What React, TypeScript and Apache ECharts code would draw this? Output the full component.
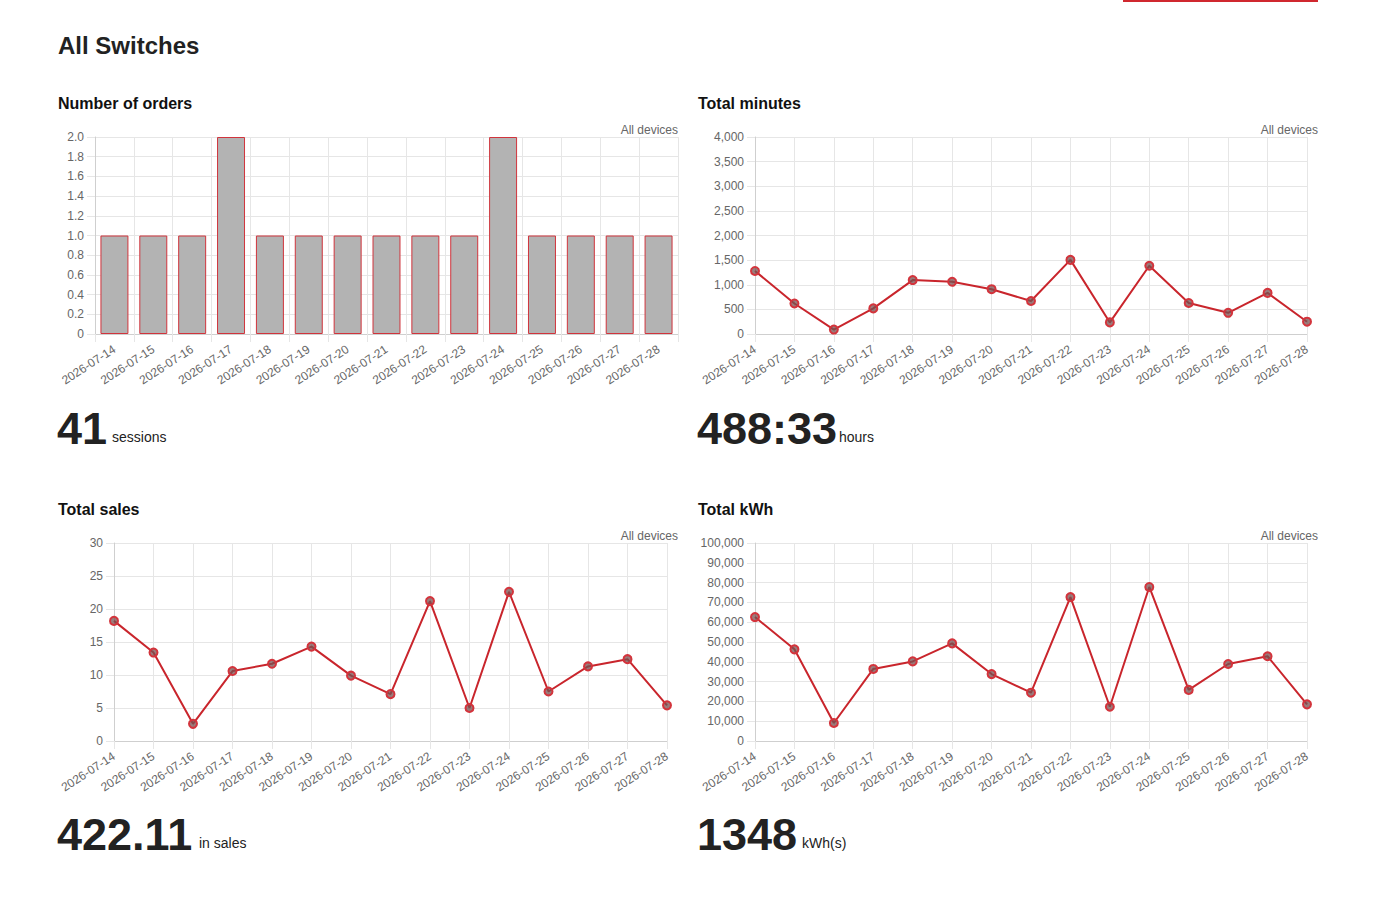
import { useEffect, useRef } from "react";
import * as echarts from "echarts";

const dates = [
  "2026-07-14", "2026-07-15", "2026-07-16", "2026-07-17", "2026-07-18",
  "2026-07-19", "2026-07-20", "2026-07-21", "2026-07-22", "2026-07-23",
  "2026-07-24", "2026-07-25", "2026-07-26", "2026-07-27", "2026-07-28",
];

const orders = [1, 1, 1, 2, 1, 1, 1, 1, 1, 1, 2, 1, 1, 1, 1];
const minutes = [1280, 620, 90, 520, 1095, 1060, 910, 670, 1505, 235, 1385, 630, 430, 835, 250];
const sales = [18.2, 13.4, 2.6, 10.6, 11.7, 14.3, 9.9, 7.1, 21.2, 5.0, 22.6, 7.5, 11.3, 12.4, 5.4];
const kwh = [62600, 46300, 9100, 36400, 40200, 49300, 33800, 24400, 72700, 17300, 77800, 25800, 38900, 42800, 18500];

const panelTitles = ["Number of orders", "Total minutes", "Total sales", "Total kWh"];
const totals = ["41", "488:33", "422.11", "1348"];
const units = ["sessions", "hours", "in sales", "kWh(s)"];
const yMax = [2, 4000, 30, 100000];
const yStep = [0.2, 500, 5, 10000];

const FONT = '"Helvetica Neue", Helvetica, Arial, "Liberation Sans", sans-serif';
const GRID = "#e6e6e6";
const RED = "#c9252c";

// plot areas, in page pixels
const grids = [
  { left: 95, top: 137, width: 583, height: 197 },
  { left: 755, top: 137, width: 552, height: 197 },
  { left: 114, top: 543, width: 553, height: 198 },
  { left: 755, top: 543, width: 552, height: 198 },
];
const colX = [58, 698, 58, 698];
const rowY = [0, 0, 406, 406];
const unitX = [112, 839, 199, 802];

const fmt = (i: number) => (v: number) => {
  if (i === 0) return v === 0 ? "0" : v.toFixed(1);
  return v.toLocaleString("en-US");
};

export default function App() {
  const ref = useRef<HTMLDivElement>(null);

  useEffect(() => {
    if (!ref.current) return;
    const chart = echarts.init(ref.current, null, { renderer: "svg" });

    const xAxis = grids.map((_, i) => ({
      type: "category",
      gridIndex: i,
      data: dates,
      boundaryGap: i === 0,
      axisLine: { lineStyle: { color: "#cfcfcf" } },
      axisTick: { show: true, interval: 0, length: 8, lineStyle: { color: GRID } },
      axisLabel: { interval: 0, rotate: 33, margin: 14, fontSize: 12, color: "#666", fontFamily: FONT },
      splitLine: { show: true, interval: 0, lineStyle: { color: GRID } },
    }));

    const yAxis = grids.map((_, i) => ({
      type: "value",
      gridIndex: i,
      min: 0,
      max: yMax[i],
      interval: yStep[i],
      axisLine: { show: true, lineStyle: { color: "#cfcfcf" } },
      axisTick: { show: true, length: 8, lineStyle: { color: GRID } },
      axisLabel: { margin: 11, fontSize: 12, color: "#666", fontFamily: FONT, formatter: fmt(i) },
      splitLine: { lineStyle: { color: GRID } },
    }));

    const lineSeries = (data: number[], i: number) => ({
      type: "line",
      xAxisIndex: i,
      yAxisIndex: i,
      data,
      symbol: "circle",
      symbolSize: 8,
      lineStyle: { color: RED, width: 2 },
      itemStyle: { color: "rgba(120,80,80,0.75)", borderColor: "#d3343c", borderWidth: 2 },
    });

    const graphic: any[] = [
      { type: "rect", shape: { x: 1123, y: 0, width: 195, height: 2 }, style: { fill: "#d0282f" } },
      {
        type: "text", x: 58, y: 45.6,
        style: { text: "All Switches", font: `bold 24px ${FONT}`, fill: "#222", verticalAlign: "middle" },
      },
    ];
    for (let i = 0; i < 4; i++) {
      const dy = rowY[i];
      const right = i % 2 === 0 ? 678 : 1318;
      graphic.push(
        {
          type: "text", x: colX[i], y: 103.8 + dy,
          style: { text: panelTitles[i], font: `bold 16px ${FONT}`, fill: "#111", verticalAlign: "middle" },
        },
        {
          type: "text", x: right, y: 130 + dy,
          style: { text: "All devices", font: `12px ${FONT}`, fill: "#666", align: "right", verticalAlign: "middle" },
        },
        {
          type: "text", x: colX[i] - 1, y: 428.5 + dy,
          style: { text: totals[i], font: `bold 45px ${FONT}`, fill: "#222", verticalAlign: "middle" },
        },
        {
          type: "text", x: unitX[i], y: 437 + dy,
          style: { text: units[i], font: `14px ${FONT}`, fill: "#222", verticalAlign: "middle" },
        }
      );
    }

    chart.setOption({
      animation: false,
      grid: grids,
      xAxis,
      yAxis,
      graphic,
      series: [
        {
          type: "bar",
          xAxisIndex: 0,
          yAxisIndex: 0,
          data: orders,
          barWidth: "72%",
          itemStyle: { color: "#b3b3b3", borderColor: "#d0343c", borderWidth: 1 },
        },
        lineSeries(minutes, 1),
        lineSeries(sales, 2),
        lineSeries(kwh, 3),
      ],
    });

    return () => chart.dispose();
  }, []);

  return (
    <div
      ref={ref}
      style={{ position: "fixed", left: 0, top: 0, width: 1377, height: 903, background: "#fff" }}
    />
  );
}
